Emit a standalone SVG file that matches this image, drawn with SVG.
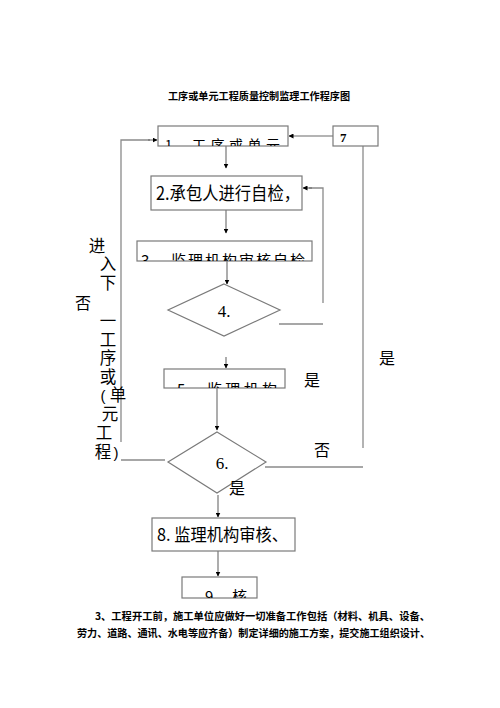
<svg xmlns="http://www.w3.org/2000/svg" width="500" height="708" viewBox="0 0 500 708">
<style>
.box{fill:#fff;stroke:#7a7a7a;stroke-width:1.2}
.ln{fill:none;stroke:#8a8a8a;stroke-width:1.3}
.ar{fill:none;stroke:#6a6a6a;stroke-width:1.1;marker-end:url(#ah)}
.cjk{font-family:"Noto Sans CJK SC","Liberation Sans",sans-serif;fill:#000}
.ser{font-family:"Liberation Serif","Noto Sans CJK SC",serif;fill:#000}
.lab{font-family:"Noto Sans CJK SC",sans-serif;font-size:16px;fill:#000;text-anchor:middle}
.side{font-family:"Liberation Sans","Noto Sans CJK SC",sans-serif;font-size:16.5px;fill:#000;text-anchor:middle}
</style>
<defs>
<marker id="ah" viewBox="0 0 10 10" refX="9" refY="5" markerWidth="5" markerHeight="5" orient="auto" markerUnits="userSpaceOnUse">
<path d="M0,0 L10,5 L0,10 z" fill="#000"/>
</marker>
<clipPath id="c1"><rect x="158" y="126" width="130" height="20"/></clipPath>
<clipPath id="c3"><rect x="137" y="241" width="175" height="20"/></clipPath>
<clipPath id="c5"><rect x="164" y="369" width="121" height="19"/></clipPath>
<clipPath id="c9"><rect x="182" y="577" width="75" height="21"/></clipPath>
</defs>
<rect width="500" height="708" fill="#fff"/>

<text class="cjk" x="168" y="100" font-size="10.2" font-weight="bold" textLength="182" lengthAdjust="spacingAndGlyphs">工序或单元工程质量控制监理工作程序图</text>

<g id="connectors">
<line class="ar" x1="226" y1="146" x2="226" y2="168"/>
<line class="ar" x1="226" y1="210" x2="226" y2="233"/>
<line class="ar" x1="227" y1="261" x2="227" y2="284"/>
<line class="ar" x1="226" y1="357" x2="226" y2="368"/>
<line class="ar" x1="217" y1="388" x2="217" y2="430"/>
<line class="ar" x1="218" y1="495" x2="218" y2="517"/>
<line class="ar" x1="218" y1="551" x2="218" y2="576"/>
<line class="ar" x1="333" y1="136" x2="289" y2="136"/>
<polyline class="ln" points="323,303 323,188 309,188"/>
<line class="ar" x1="312" y1="188" x2="303" y2="188"/>
<line class="ln" x1="279" y1="324" x2="323" y2="324"/>
<line class="ln" x1="363" y1="146" x2="363" y2="448"/>
<line class="ln" x1="265" y1="467" x2="363" y2="467"/>
<line class="ln" x1="121" y1="460" x2="165" y2="460"/>
<polyline class="ln" points="121,442 121,140 150,140"/>
<line class="ar" x1="148" y1="140" x2="157" y2="140"/>
</g>

<g id="n1">
<rect class="box" x="158" y="126" width="130" height="20"/>
<g clip-path="url(#c1)">
<text class="cjk" x="165" y="150" font-size="13">1</text>
<text class="cjk" x="192" y="150" font-size="14" textLength="88" lengthAdjust="spacing">工序或单元</text>
</g>
</g>

<g id="n7">
<rect class="box" x="333" y="126" width="45" height="20"/>
<text class="ser" x="340" y="142" font-size="13" font-weight="bold">7</text>
</g>

<g id="n2">
<rect class="box" x="151" y="176" width="151" height="34"/>
<text class="cjk" x="156" y="200" font-size="18" textLength="144" lengthAdjust="spacingAndGlyphs">2.承包人进行自检，</text>
</g>

<g id="n3">
<rect class="box" x="137" y="241" width="175" height="20"/>
<g clip-path="url(#c3)">
<text class="cjk" x="141" y="266" font-size="15">3</text>
<text class="cjk" x="171" y="266" font-size="15" textLength="134" lengthAdjust="spacing">监理机构审核自检</text>
</g>
</g>

<g id="n4">
<polygon class="box" points="224,284 280,310 224,336 168,310"/>
<text class="ser" x="224" y="317" font-size="17" text-anchor="middle">4.</text>
</g>

<g id="n5">
<rect class="box" x="164" y="369" width="121" height="19"/>
<g clip-path="url(#c5)">
<text class="cjk" x="177" y="395" font-size="15">5</text>
<text class="cjk" x="207" y="395" font-size="15" textLength="70" lengthAdjust="spacing">监理机构</text>
</g>
</g>

<g id="n6">
<polygon class="box" points="217,432 266,462 217,493 168,462"/>
<text class="ser" x="222" y="469" font-size="17" text-anchor="middle">6.</text>
</g>

<g id="n8">
<rect class="box" x="152" y="518" width="143" height="33"/>
<text class="cjk" x="157" y="541" font-size="17" textLength="131" lengthAdjust="spacingAndGlyphs">8. 监理机构审核、</text>
</g>

<g id="n9">
<rect class="box" x="182" y="577" width="75" height="21"/>
<g clip-path="url(#c9)">
<text class="cjk" x="205" y="602" font-size="15">9</text>
<text class="cjk" x="232" y="602" font-size="15">核</text>
</g>
</g>

<g id="labels">
<text class="lab" x="312" y="386">是</text>
<text class="lab" x="387" y="364">是</text>
<text class="lab" x="322" y="456">否</text>
<text class="lab" x="237" y="494">是</text>
<text class="lab" x="83" y="309">否</text>
</g>

<text id="sidetext" class="side"><tspan x="97" y="252">进</tspan><tspan x="108" y="270">入</tspan><tspan x="108" y="289">下</tspan><tspan x="108" y="327">一</tspan><tspan x="108" y="346">工</tspan><tspan x="108" y="364">序</tspan><tspan x="108" y="383">或</tspan><tspan x="103" y="401" font-size="15">(</tspan><tspan x="118" y="401">单</tspan><tspan x="110" y="420">元</tspan><tspan x="104" y="439">工</tspan><tspan x="103" y="458">程</tspan><tspan x="116" y="458" font-size="15">)</tspan></text>

<text class="cjk" x="95" y="620" font-size="10.4" font-weight="bold" textLength="335" lengthAdjust="spacingAndGlyphs">3、工程开工前，施工单位应做好一切准备工作包括（材料、机具、设备、</text>
<text class="cjk" x="77" y="637" font-size="10.4" font-weight="bold" textLength="353" lengthAdjust="spacingAndGlyphs">劳力、道路、通讯、水电等应齐备）制定详细的施工方案，提交施工组织设计、</text>
</svg>
